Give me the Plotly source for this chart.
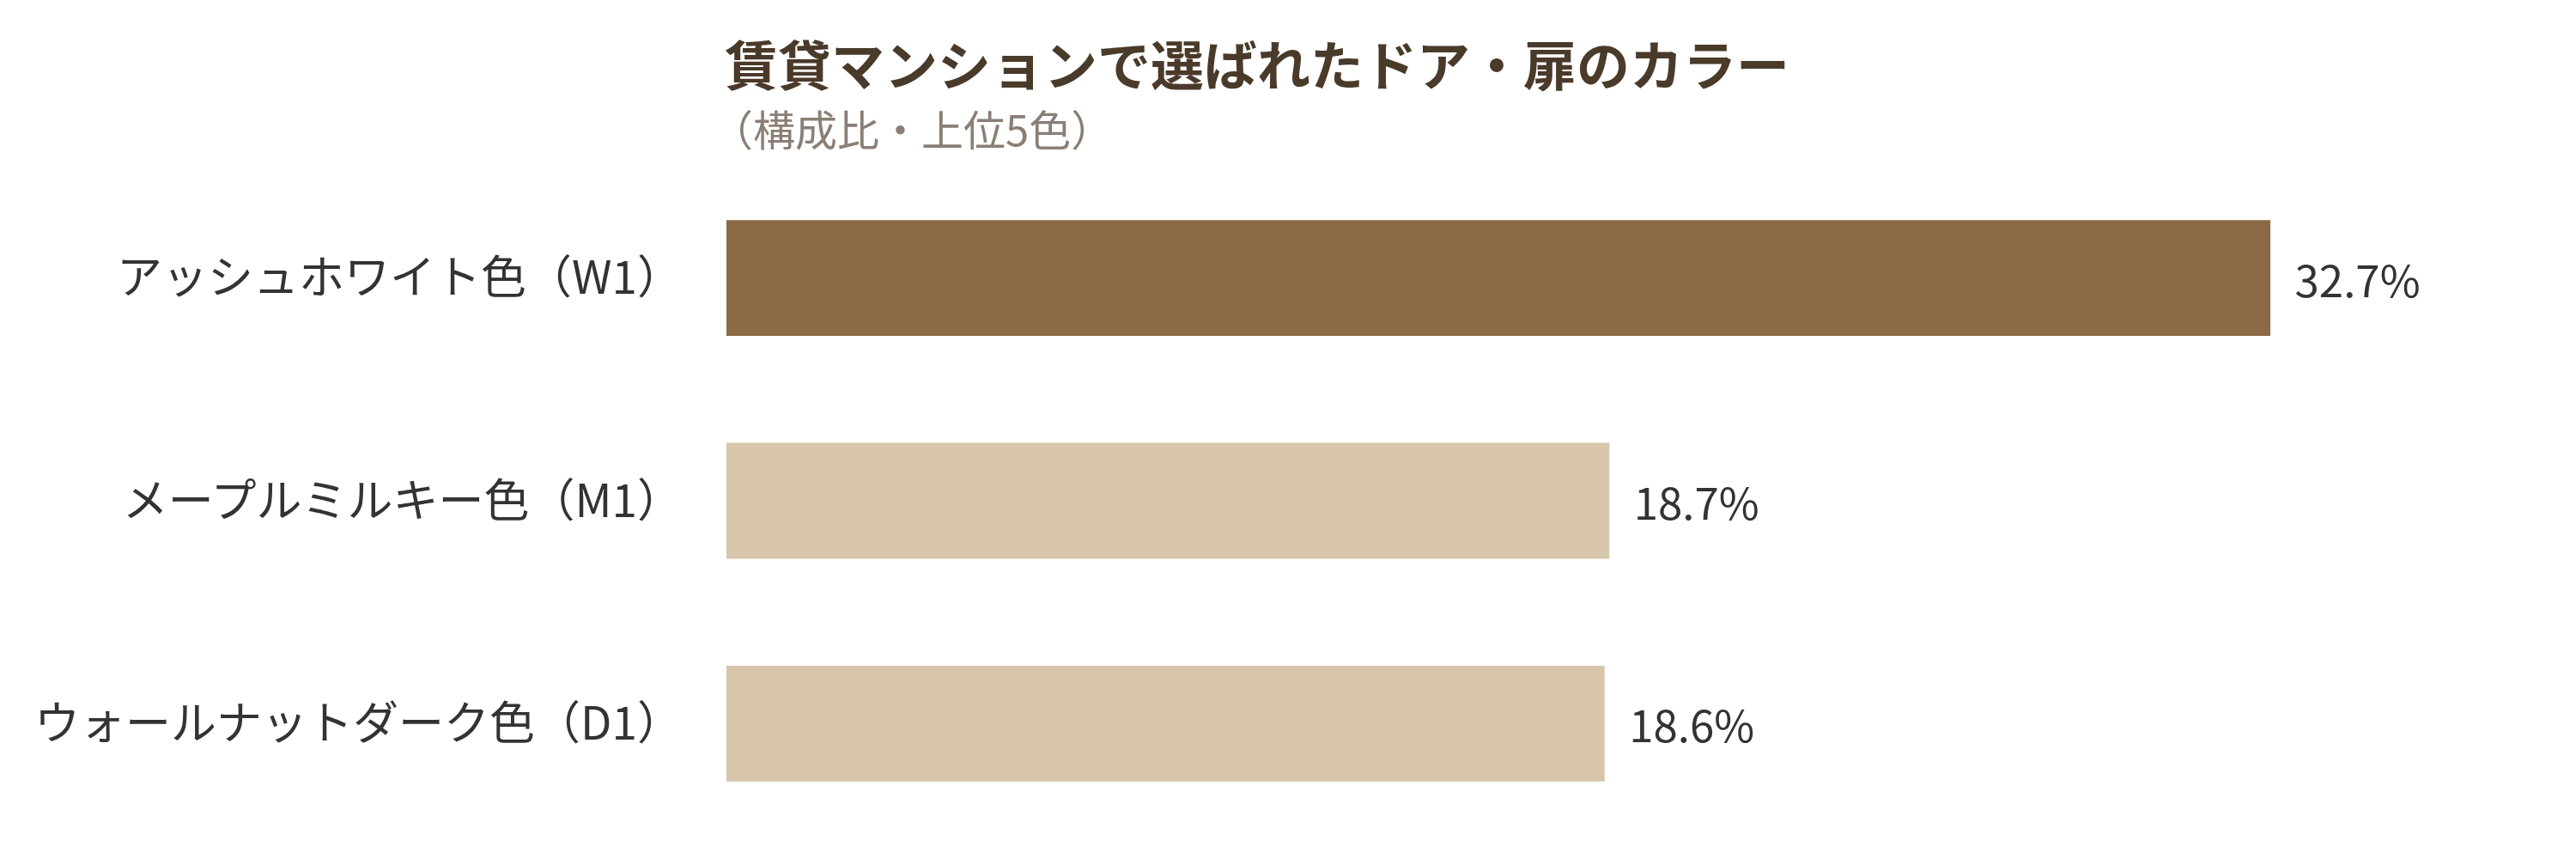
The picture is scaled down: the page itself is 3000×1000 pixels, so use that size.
import plotly.graph_objects as go

categories = ["アッシュホワイト色（W1）", "メープルミルキー色（M1）", "ウォールナットダーク色（D1）"]
values = [32.7, 18.7, 18.6]
colors = ["#8B6A45", "#D7C6AB", "#D7C6AB"]
labels = [f"\u2002{v}%" for v in values]

fig = go.Figure(go.Bar(
    x=values, y=categories, orientation="h",
    marker=dict(color=colors, line=dict(width=0)),
    width=0.52,
    text=labels, textposition="outside", cliponaxis=False,
    textfont=dict(size=51, color="#333333", family="Noto Sans CJK JP"),
))
fig.update_layout(
    width=3000, height=1000,
    margin=dict(l=838, r=100, t=186, b=36),
    plot_bgcolor="white", paper_bgcolor="white",
    font=dict(family="Noto Sans CJK JP", color="#333333"),
    showlegend=False,
    xaxis=dict(range=[0, 37.5], visible=False),
    yaxis=dict(autorange=False, range=[2.5, -0.5], showgrid=False, showline=False,
               ticks="", ticklabelstandoff=50, tickfont=dict(size=53, color="#333333")),
    annotations=[
        dict(text="<b>賃貸マンションで選ばれたドア・扉のカラー</b>", xref="paper", yref="paper",
             x=0, y=1, xanchor="left", yanchor="bottom", yshift=74, xshift=-4,
             showarrow=False, font=dict(size=62, color="#4A3A2A")),
        dict(text="（構成比・上位5色）", xref="paper", yref="paper",
             x=0, y=1, xanchor="left", yanchor="bottom", yshift=8, xshift=-20,
             showarrow=False, font=dict(size=49, color="#8A7F75")),
    ],
)
fig.write_html("out.html")
